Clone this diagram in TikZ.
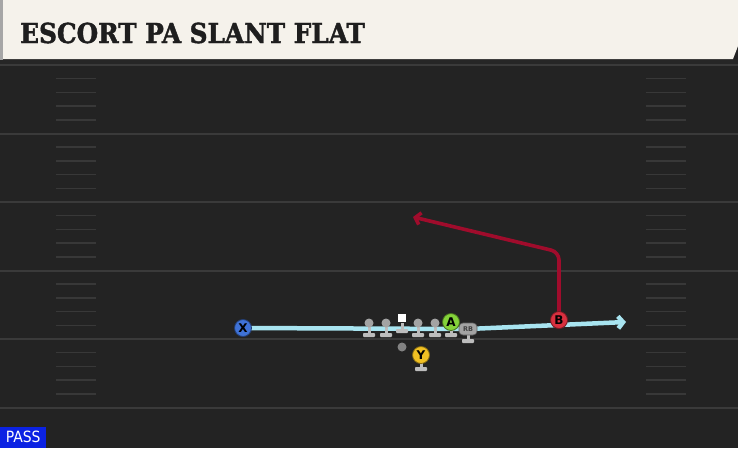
\documentclass[tikz,border=0pt]{standalone}
\usepackage{fontspec}
\usepackage{xcolor}
\usepackage{tikz}
\usetikzlibrary{arrows.meta}
\newfontfamily\titlefont{DejaVu Serif Condensed}[FakeBold=1.5]
\newfontfamily\playfont{DejaVu Sans}
\newfontfamily\tagfont{DejaVu Sans Condensed}
\definecolor{field}{HTML}{232323}
\definecolor{yardline}{HTML}{3A3A3A}
\definecolor{hashmark}{HTML}{383838}
\definecolor{header}{HTML}{F5F2EB}
\definecolor{titleink}{HTML}{1E1E1E}
\definecolor{xblue}{HTML}{3F72D6}
\definecolor{agreen}{HTML}{84D23A}
\definecolor{bred}{HTML}{D8303F}
\definecolor{yyellow}{HTML}{F0C023}
\definecolor{flatcyan}{HTML}{A8E4F0}
\definecolor{slantred}{HTML}{A00C2C}
\definecolor{lineman}{HTML}{A3A3A3}
\definecolor{standgray}{HTML}{BDBDBD}
\definecolor{passblue}{HTML}{0B22E3}
\pgfdeclarelayer{field}
\pgfdeclarelayer{routes}
\pgfsetlayers{field,routes,main}
\tikzset{
  fieldLine/.style={draw=yardline, line width=2pt},
  hashMark/.style={draw=hashmark, line width=1.5pt},
  playerDot/.style={circle, minimum size=17pt, inner sep=0pt, line width=0.8pt,
    draw=#1!55!black, fill=#1, text=black, font=\playfont\bfseries\fontsize{12}{12}\selectfont},
  linemanDot/.style={circle, minimum size=9pt, inner sep=0pt, fill=lineman},
  centerBox/.style={rectangle, minimum size=8.5pt, inner sep=0pt, fill=white},
  backBlob/.style={rectangle, rounded corners=4pt, minimum width=18pt, minimum height=12pt,
    inner sep=0pt, fill=lineman, draw=lineman!60!black, line width=0.6pt, text=black!75,
    font=\playfont\bfseries\fontsize{6.5}{6.5}\selectfont},
  qbDot/.style={circle, minimum size=9pt, inner sep=0pt, fill=lineman!80!black},
  flatRoute/.style={draw=flatcyan, line width=4.5pt, -{Straight Barb[length=5pt,width=12pt]}},
  slantRoute/.style={draw=slantred, line width=3.6pt, rounded corners=8pt,
    -{Straight Barb[length=5pt,width=12pt]}},
  passTag/.style={fill=passblue, text=white, inner sep=0pt, minimum width=46pt,
    minimum height=21pt, font=\tagfont\fontsize{15.5}{15.5}\selectfont},
  playerStand/.pic={
    \fill[standgray] (-1.5,0) rectangle (1.5,7);
    \fill[standgray, rounded corners=0.8pt] (-6,6) rectangle (6,10);
  }
}

\begin{document}
\begin{tikzpicture}[x=1pt, y=-1pt]
  \useasboundingbox (0,0) rectangle (738,448);

  \begin{pgfonlayer}{field}
    \fill[field] (0,0) rectangle (738,448);
    \fill[black!85] (0,59) rectangle (738,64);
    \foreach \y in {65,133.5,202,270.5,339} {
      \foreach \k in {1,...,4} {
        \draw[hashMark] (56,\y+13.7*\k) -- (96,\y+13.7*\k);
        \draw[hashMark] (646,\y+13.7*\k) -- (686,\y+13.7*\k);
      }
    }
    \foreach \y in {65,133.5,202,270.5,339,407.5}
      \draw[fieldLine] (0,\y) -- (738,\y);
    \fill[header] (3,0) -- (738,0) -- (738,46) -- (733,59) -- (3,59) -- cycle;
    \fill[black!35] (0,0) rectangle (3,60);
  \end{pgfonlayer}

  \node[anchor=base west, inner sep=0pt, text=titleink,
    font=\titlefont\bfseries\fontsize{27.5}{27.5}\selectfont] (title) at (20,43) {ESCORT PA SLANT FLAT};

  \coordinate (slantBreak) at (559,252);
  \coordinate (slantEnd) at (413,217);
  \coordinate (flatEnd) at (626,322);

  \pic at (369,327) {playerStand};
  \pic at (386,327) {playerStand};
  \pic at (402,323) {playerStand};
  \pic at (418,327) {playerStand};
  \pic at (435,327) {playerStand};
  \pic at (451,327) {playerStand};
  \pic at (468,333) {playerStand};
  \pic at (421,361) {playerStand};

  \node[linemanDot] (LT) at (369,323) {};
  \node[linemanDot] (LG) at (386,323) {};
  \node[centerBox] (C) at (402,318) {};
  \node[linemanDot] (RG) at (418,323) {};
  \node[linemanDot] (RT) at (435,323) {};
  \node[qbDot] (QB) at (402,347) {};
  \node[backBlob] (RB) at (468,329) {RB};
  \node[playerDot=xblue] (X) at (243,328) {X};
  \node[playerDot=agreen] (A) at (451,322) {A};
  \node[playerDot=bred] (B) at (559,320) {B};
  \node[playerDot=yyellow] (Y) at (421,355) {Y};

  \begin{pgfonlayer}{routes}
    \draw[flatRoute] (X.center) -- (RB.center) -- (flatEnd);
    \draw[slantRoute] (B.center) -- (slantBreak) -- (slantEnd);
  \end{pgfonlayer}

  \node[passTag, anchor=south west] (pass) at (0,448) {PASS};
\end{tikzpicture}
\end{document}
